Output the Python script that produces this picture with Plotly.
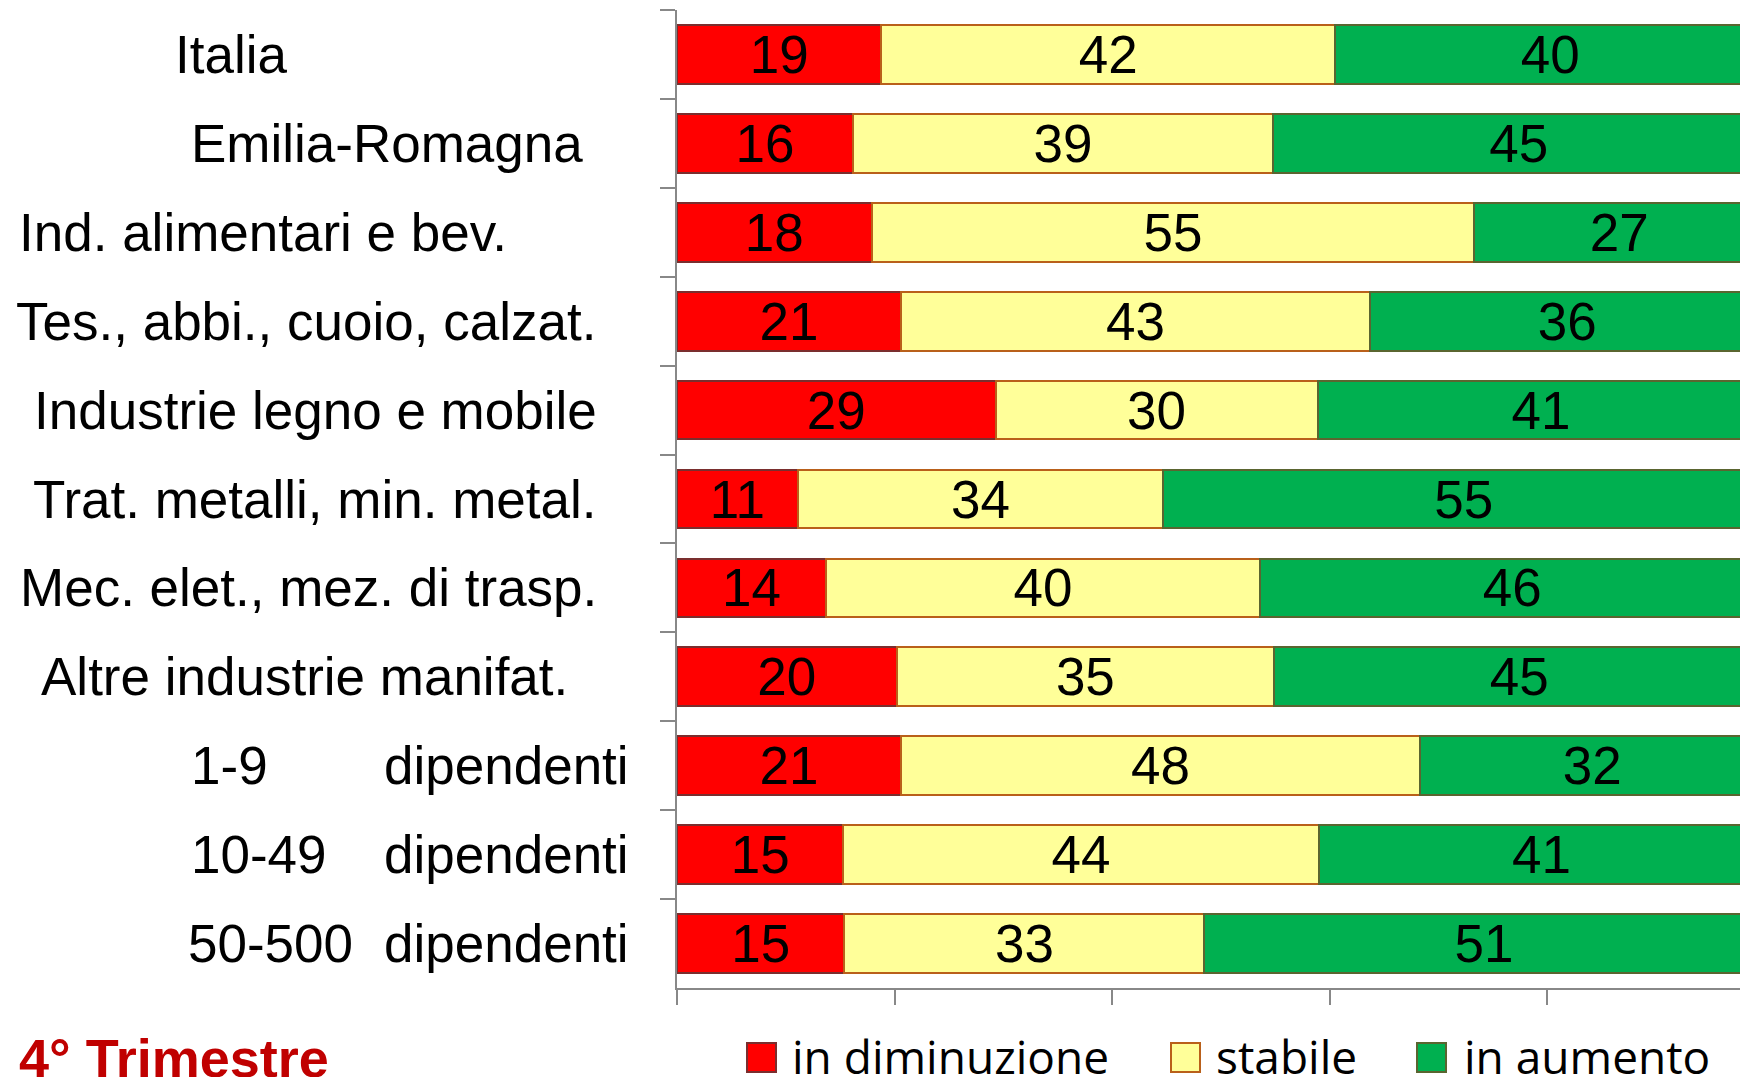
import plotly.graph_objects as go

# ── Data ─────────────────────────────────────
categories = [
    "Italia",
    "Emilia-Romagna",
    "Ind. alimentari e bev.",
    "Tes., abbi., cuoio, calzat.",
    "Industrie legno e mobile",
    "Trat. metalli, min. metal.",
    "Mec. elet., mez. di trasp.",
    "Altre industrie manifat.",
    "1-9 dipendenti",
    "10-49 dipendenti",
    "50-500 dipendenti",
]
in_diminuzione = [18.8, 16.2, 17.9, 20.6, 29.3, 11.1, 13.7, 20.2, 20.6, 15.3, 15.4]
stabile = [41.7, 38.6, 55.4, 43.1, 29.6, 33.6, 39.9, 34.7, 47.7, 43.7, 33.1]
in_aumento = [39.6, 45.2, 26.7, 36.3, 41.1, 55.3, 46.4, 45.1, 31.7, 41.0, 51.4]
series_names = ["in diminuzione", "stabile", "in aumento"]
x_ticks = [0, 20, 40, 60, 80, 100]
period = "4° Trimestre"

# ── Styling ──────────────────────────────────
# page body has an 8px margin, so the figure is shifted by OFF;
# the visible page is ~1740px wide, so the figure stops there
OFF = 8
W, H = 1740 - OFF, 1077 - OFF
ML, MT = 677 - OFF, 10 - OFF
MB = H - (988 - OFF)
PW, PH = W - ML, H - MT - MB
fills = ['#FF0000', '#FFFF99', '#00B050']
borders = ['#7A2E2E', '#B9601A', '#5A6530']
LBL_FONT = 'Liberation Sans, Arial, sans-serif'


# page pixel -> paper coords
def px_x(px):
    return (px - OFF - ML) / PW


def px_y(py):
    return (H - MB - (py - OFF)) / PH


fig = go.Figure()
for vals, name, fc, bc in zip([in_diminuzione, stabile, in_aumento],
                              series_names, fills, borders):
    fig.add_trace(go.Bar(
        y=categories, x=vals, name=name, orientation='h',
        marker=dict(color=fc, line=dict(color=bc, width=2)),
        texttemplate='%{x:.0f}', textposition='inside',
        insidetextanchor='middle', textangle=0,
        textfont=dict(family=LBL_FONT, size=53, color='black'),
        showlegend=False, hoverinfo='skip'
    ))

# category labels placed like the original text boxes
# (center x in px, or left x for the size-band rows)
label_center = [231, 387, 263, 306, 315, 315, 308, 304]
for cat, cx in zip(categories[:8], label_center):
    fig.add_annotation(text=cat, xref='paper', yref='y', x=px_x(cx), y=cat,
                       xanchor='center', yanchor='middle', showarrow=False,
                       font=dict(family=LBL_FONT, size=53, color='black'))
for cat, lx in zip(categories[8:], [190, 190, 187]):
    band, word = cat.split(' ', 1)
    fig.add_annotation(text=band, xref='paper', yref='y', x=px_x(lx), y=cat,
                       xanchor='left', yanchor='middle', showarrow=False,
                       borderpad=0,
                       font=dict(family=LBL_FONT, size=53, color='black'))
    fig.add_annotation(text=word, xref='paper', yref='y', x=px_x(506), y=cat,
                       xanchor='center', yanchor='middle', showarrow=False,
                       font=dict(family=LBL_FONT, size=53, color='black'))

# manual legend with large square keys
for name, fc, bc, sx, tx in zip(series_names, fills, borders,
                                [747, 1171, 1417], [791, 1215, 1463]):
    fig.add_shape(type='rect', xref='paper', yref='paper',
                  x0=px_x(sx), x1=px_x(sx + 29),
                  y0=px_y(1072), y1=px_y(1043),
                  fillcolor=fc, line=dict(color=bc, width=2))
    fig.add_annotation(text=name, xref='paper', yref='paper',
                       x=px_x(tx), y=px_y(1024), xanchor='left', yanchor='top',
                       showarrow=False, borderpad=0,
                       font=dict(family='Open Sans, sans-serif', size=46,
                                 color='black'))

fig.add_annotation(text='<b>' + period + '</b>', xref='paper', yref='paper',
                   x=px_x(18), y=px_y(1027), xanchor='left', yanchor='top',
                   showarrow=False, borderpad=0,
                   font=dict(family=LBL_FONT, size=54, color='#C00000'))

fig.update_layout(
    width=W, height=H,
    margin=dict(l=ML, r=0, t=MT, b=MB, pad=0),
    barmode='stack', bargap=0.34,
    paper_bgcolor='white', plot_bgcolor='white',
    uniformtext=dict(minsize=53, mode='show'),
    xaxis=dict(range=[0, PW / 10.875], tickvals=x_ticks, showticklabels=False,
               ticks='outside', ticklen=15, tickwidth=2, tickcolor='#888888',
               showline=True, linecolor='#888888', linewidth=2,
               showgrid=False, zeroline=False, fixedrange=True),
    yaxis=dict(type='category', autorange='reversed', showticklabels=False,
               ticks='outside', tickson='boundaries', ticklen=15, tickwidth=2,
               tickcolor='#888888', showline=True, linecolor='#888888',
               linewidth=2, showgrid=False, zeroline=False, fixedrange=True),
    showlegend=False,
)

fig.write_html("out.html")
